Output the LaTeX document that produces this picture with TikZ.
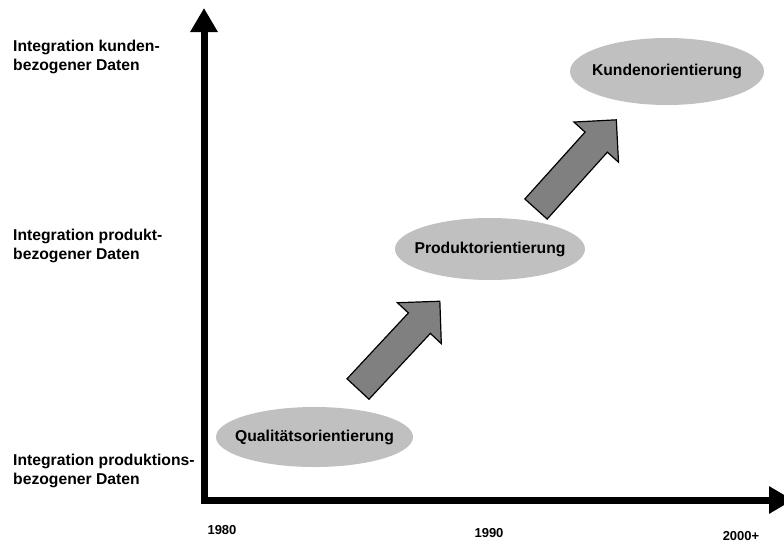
\documentclass[tikz,border=0pt]{standalone}
\usepackage{fontspec}
\setmainfont{Liberation Sans}
\usetikzlibrary{arrows.meta,shapes.geometric}
\definecolor{ovalgray}{RGB}{192,192,192}
\definecolor{arrowgray}{RGB}{128,128,128}
\tikzset{
  axis/.style={line width=7pt, line join=miter,
    {Triangle[length=24pt,width=26pt]}-{Triangle[length=24pt,width=26pt]}},
  phase/.style={ellipse, fill=ovalgray, inner sep=0pt},
  phasetext/.style={inner sep=0pt, font=\bfseries\fontsize{15.7}{18}\selectfont},
  block arrow/.style={draw=black, line width=1.2pt, fill=arrowgray, line join=miter},
  level/.style={anchor=west, align=left, inner sep=0pt,
    font=\bfseries\fontsize{15.7}{18.5}\selectfont},
  year/.style={inner sep=0pt, font=\bfseries\fontsize{13}{15}\selectfont}
}
% block arrow from the current origin along +x: shaft 30 wide, head 60 wide and 30 long
\newcommand{\blockarrow}{%
  \draw[block arrow] (0,15) -- (90,15) -- (90,30) -- (120,0) -- (90,-30)
    -- (90,-15) -- (0,-15) -- cycle;}
\begin{document}
\begin{tikzpicture}[x=1pt,y=-1pt]
\clip (0,0) rectangle (784,544);
\useasboundingbox (0,0) rectangle (784,544);
\fill[white] (0,0) rectangle (784,544);

% axes
\coordinate (ytip) at (204,8);
\coordinate (origin) at (204,500);
\coordinate (xtip) at (793,500);
\draw[axis] (ytip) -- (origin) -- (xtip);

% level labels on the vertical axis
\node[level] (lk) at (13,57) {Integration kunden-\\bezogener Daten};
\node[level] (lp) at (13,246) {Integration produkt-\\bezogener Daten};
\node[level] (lq) at (13,471) {Integration produktions-\\bezogener Daten};

% years on the horizontal axis
\node[year] (y80) at (222,530) {1980};
\node[year] (y90) at (489,533) {1990};
\node[year] (y00) at (741,536) {2000+};

% phases
\node[phase, minimum width=197pt, minimum height=60pt] (qual) at (314.5,437) {};
\node[phasetext] (qualt) at (qual.center) {Qualitätsorientierung};
\node[phase, minimum width=190pt, minimum height=62pt] (prod) at (490,249) {};
\node[phasetext] (prodt) at (prod.center) {Produktorientierung};
\node[phase, minimum width=194pt, minimum height=67pt] (kund) at (667,71.5) {};
\node[phasetext] (kundt) at (kund.center) {Kundenorientierung};

% transition arrows between the phases
\coordinate (tail1) at (358,389);
\coordinate (tail2) at (536,209);
\begin{scope}[shift={(tail1)}, rotate=47]
  \blockarrow
\end{scope}
\begin{scope}[shift={(tail2)}, rotate=48]
  \blockarrow
\end{scope}
\end{tikzpicture}
\end{document}
